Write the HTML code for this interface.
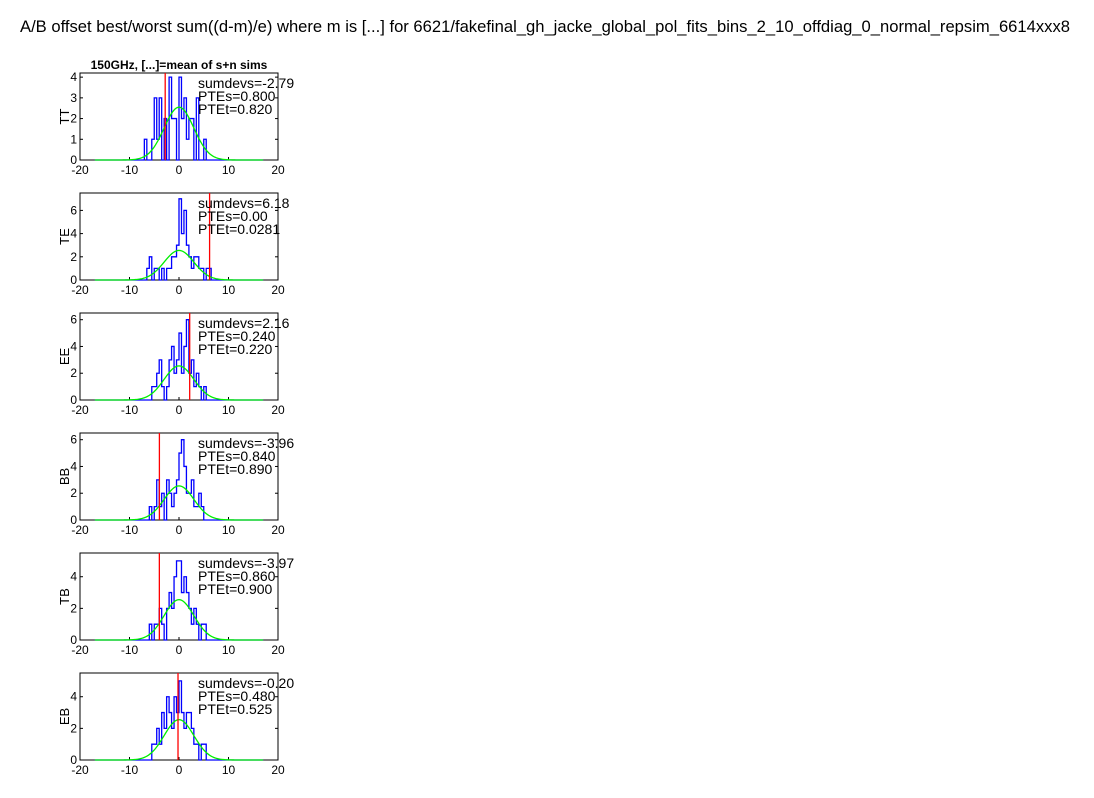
<!DOCTYPE html>
<html><head><meta charset="utf-8"><style>
body{margin:0;background:#fff;font-family:"Liberation Sans",sans-serif}
svg text{font-family:"Liberation Sans",sans-serif}
</style></head><body>
<svg id="c" width="1094" height="793">
<text x="20" y="32" font-size="16.6">A/B offset best/worst sum((d-m)/e) where m is [...] for 6621/fakefinal_gh_jacke_global_pol_fits_bins_2_10_offdiag_0_normal_repsim_6614xxx8</text>
<text x="179" y="69" font-size="12" font-weight="bold" text-anchor="middle">150GHz, [...]=mean of s+n sims</text>
</svg>
<script>
const panels=["TT","TE","EE","BB","TB","EB"];
const binStart=-7.5, binW=0.5;
const countsTT=[0,1,0,0,1,3,1,3,0,2,0,4,2,2,0,4,2,3,1,2,2,0,3,0,0,1,0,0,0,0];
const countsTE=[0,0,1,2,0,1,1,0,1,0,1,1,2,2,3,7,4,6,3,2,1,2,2,1,1,0,1,1,0,0];
const countsEE=[0,0,0,0,1,1,2,3,1,0,1,3,4,2,3,5,2,4,6,2,3,1,2,1,0,1,0,0,0,0];
const countsBB=[0,0,0,1,0,1,3,1,2,0,3,2,1,2,3,5,6,4,2,2,3,1,1,2,1,0,0,0,0,0];
const countsTB=[0,0,0,1,0,1,1,2,1,0,2,3,2,4,5,5,3,4,3,2,1,2,1,0,1,1,0,0,0,0];
const countsEB=[0,0,0,0,1,1,2,1,3,2,4,3,2,4,3,5,3,2,3,3,2,1,1,0,1,1,0,0,0,0];
const allCounts=[countsTT,countsTE,countsEE,countsBB,countsTB,countsEB];
const sumdevs=[-2.79,6.18,2.16,-3.96,-3.97,-0.20];
const sumdevLabels=["-2.79","6.18","2.16","-3.96","-3.97","-0.20"];
const ptes=["0.800","0.00","0.240","0.840","0.860","0.480"];
const ptet=["0.820","0.0281","0.220","0.890","0.900","0.525"];
const yMax=[4.2,7.5,6.5,6.5,5.5,5.5];
const yTicks=[[0,1,2,3,4],[0,2,4,6],[0,2,4,6],[0,2,4,6],[0,2,4],[0,2,4]];
const xTicks=[-20,-10,0,10,20];
const gaussPeak=2.55, gaussSigma=3.0;
const NS="http://www.w3.org/2000/svg";
const svg=document.getElementById('c');
function mk(t,a,p){const e=document.createElementNS(NS,t);for(const k in a)e.setAttribute(k,a[k]);(p||svg).appendChild(e);return e;}
const L=80,R=278,H=87;
panels.forEach((name,i)=>{
 const top=73+120*i, bot=top+H;
 const g=mk('g',{});
 
 
 const xs=v=>L+(v+20)/40*(R-L);
 const ys=v=>bot-v/yMax[i]*H;
 const fr=mk('rect',{x:L,y:top,width:R-L,height:H,fill:'none',stroke:'#000','stroke-width':1},g);
 
 
 xTicks.forEach(t=>{
  mk('line',{x1:xs(t),x2:xs(t),y1:bot,y2:bot-3,stroke:'#000'},g);
  const tx=mk('text',{x:xs(t),y:bot+14,'font-size':12,'text-anchor':'middle'},g);tx.textContent=t;
  
  
 });
 yTicks[i].forEach(t=>{
  mk('line',{x1:L,x2:L+3,y1:ys(t),y2:ys(t),stroke:'#000'},g);
  mk('line',{x1:R,x2:R-3,y1:ys(t),y2:ys(t),stroke:'#000'},g);
  const tx=mk('text',{x:L-3,y:ys(t)+4,'font-size':12,'text-anchor':'end'},g);tx.textContent=t;
  
  
 });
 const yl=mk('text',{x:0,y:0,'font-size':13,'text-anchor':'middle',transform:`translate(69,${top+H/2}) rotate(-90)`},g);yl.textContent=name;
 
 
 const c=allCounts[i];
 let d=`M${xs(-17)},${ys(0)} L${xs(binStart)},${ys(0)}`;
 c.forEach((v,k)=>{const x0=binStart+k*binW;d+=` L${xs(x0)},${ys(v)} L${xs(x0+binW)},${ys(v)}`;});
 d+=` L${xs(binStart+c.length*binW)},${ys(0)} L${xs(17)},${ys(0)}`;
 const h=mk('path',{d,fill:'none',stroke:'#0000ff','stroke-width':1.3},g);
 
 
 let gd='';
 for(let x=-17;x<=17.001;x+=0.25){const v=gaussPeak*Math.exp(-x*x/(2*gaussSigma*gaussSigma));gd+=(gd?' L':'M')+xs(x)+','+ys(v);}
 const gl=mk('path',{d:gd,fill:'none',stroke:'#00ee00','stroke-width':1.3},g);
 
 
 const rl=mk('line',{x1:xs(sumdevs[i]),x2:xs(sumdevs[i]),y1:top,y2:bot,stroke:'#ff0000','stroke-width':1.3},g);
 
 
 [["sumdevs="+sumdevLabels[i],15],["PTEs="+ptes[i],28],["PTEt="+ptet[i],41]].forEach(([s,dy])=>{
  const t=mk('text',{x:198,y:top+dy,'font-size':14},g);t.textContent=s;
  
  
 });
});
</script>
</body></html>
